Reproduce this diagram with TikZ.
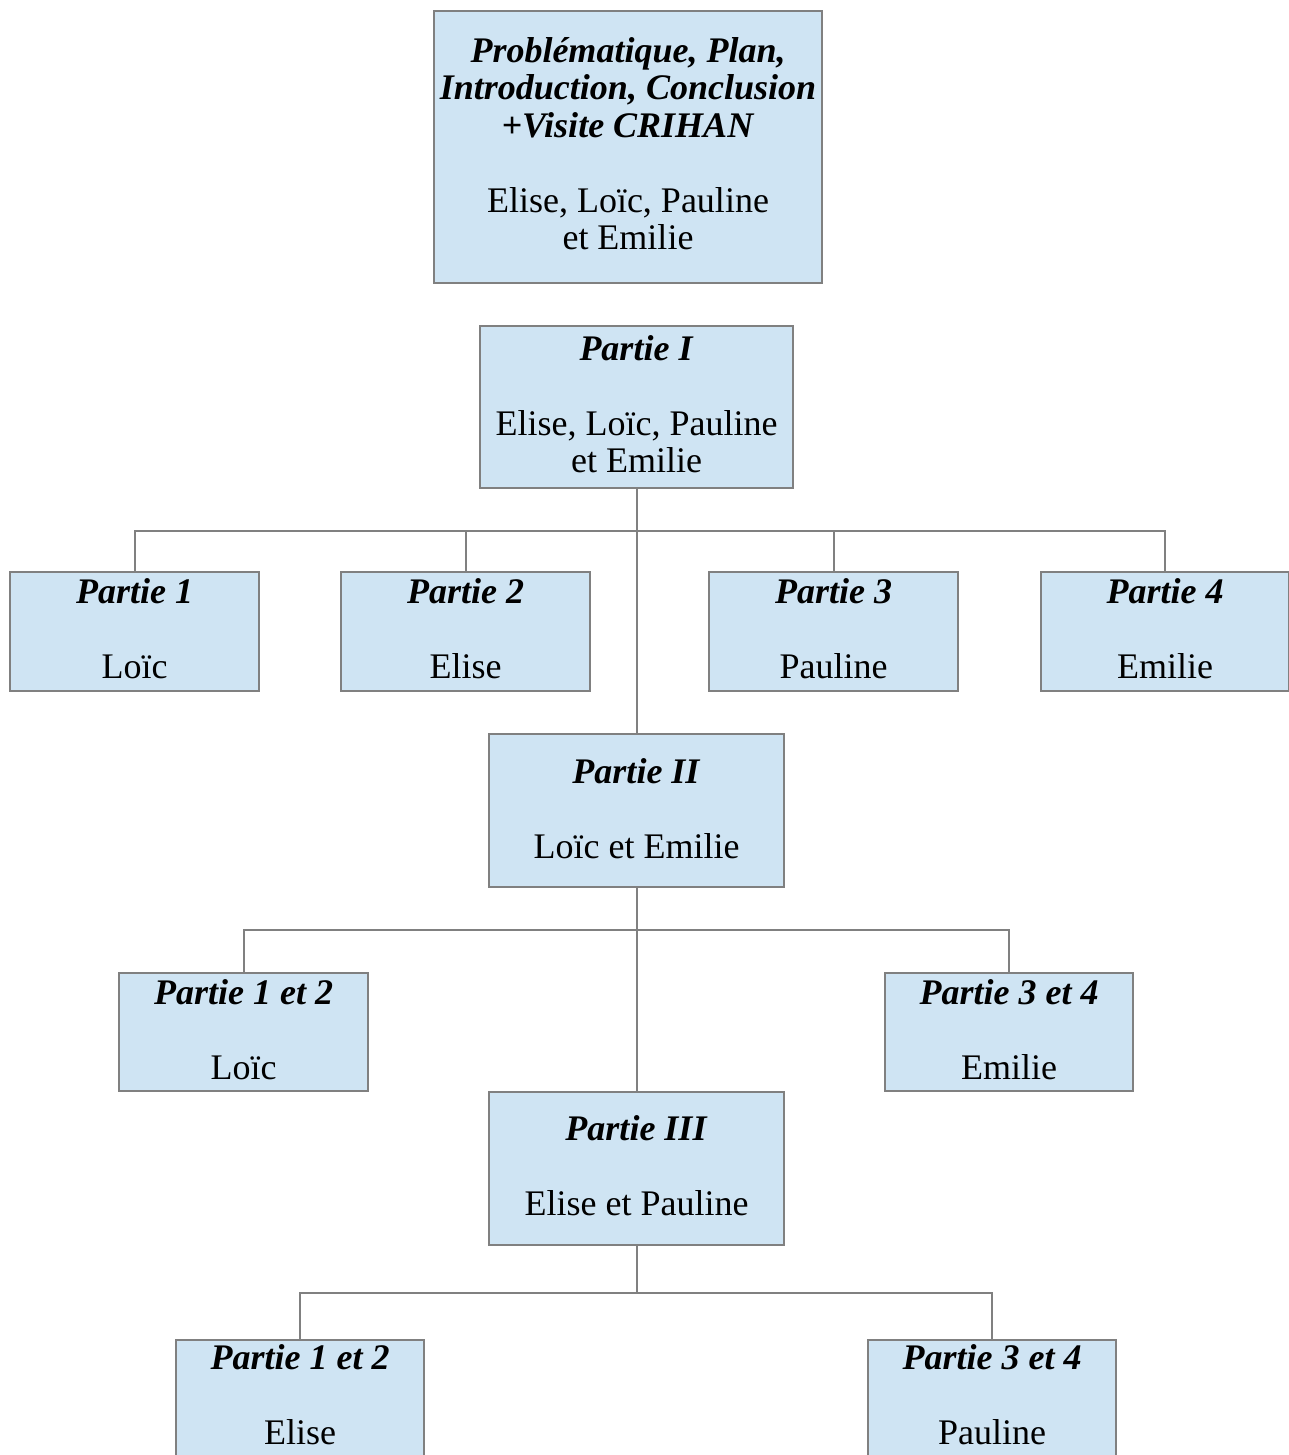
\documentclass[tikz,border=0pt]{standalone}
\usepackage{fontspec}
\setmainfont{Liberation Serif}
\definecolor{boxfill}{RGB}{207,228,243}
\definecolor{boxline}{RGB}{128,128,128}
\tikzset{
  boxn/.style={draw=boxline, fill=boxfill, line width=2pt, inner sep=0pt, rectangle},
  txt/.style={inner sep=0pt, align=center, anchor=north, font=\fontsize{36}{37.5}\selectfont},
  conn/.style={draw=boxline, line width=2pt},
}
\newcommand{\ttl}[1]{\textbf{\textit{#1}}}
\begin{document}
\begin{tikzpicture}[x=1pt,y=-1pt]
\useasboundingbox[fill=white] (0,0) rectangle (1289,1455);
% boxes
\node[boxn, minimum width=388pt, minimum height=272pt] (top) at (628,147) {};
\node[boxn, minimum width=313pt, minimum height=162pt] (p1) at (636.5,407) {};
\node[boxn, minimum width=249pt, minimum height=119pt] (pa) at (134.5,631.5) {};
\node[boxn, minimum width=249pt, minimum height=119pt] (pb) at (465.5,631.5) {};
\node[boxn, minimum width=249pt, minimum height=119pt] (pc) at (833.5,631.5) {};
\node[boxn, minimum width=248pt, minimum height=119pt] (pd) at (1165,631.5) {};
\node[boxn, minimum width=295pt, minimum height=153pt] (p2) at (636.5,810.5) {};
\node[boxn, minimum width=249pt, minimum height=118pt] (qa) at (243.5,1032) {};
\node[boxn, minimum width=248pt, minimum height=118pt] (qb) at (1009,1032) {};
\node[boxn, minimum width=295pt, minimum height=153pt] (p3) at (636.5,1168.5) {};
\node[boxn, minimum width=248pt, minimum height=130pt] (ra) at (300,1405) {};
\node[boxn, minimum width=248pt, minimum height=130pt] (rb) at (992,1405) {};
% texts
\node[txt] (top-t) at ([yshift=-1pt]top.north) {\rule{0pt}{51pt}\ttl{Problématique, Plan,}\\\ttl{Introduction, Conclusion}\\\ttl{+Visite CRIHAN}\\[37.5pt]Elise, Loïc, Pauline\\et Emilie};
\node[txt] (p1-t) at (p1.north) {\rule{0pt}{35pt}\ttl{Partie I}\\[37.5pt]Elise, Loïc, Pauline\\et Emilie};
\node[txt] (pa-t) at (pa.north) {\rule{0pt}{32pt}\ttl{Partie 1}\\[37.5pt]Loïc};
\node[txt] (pb-t) at (pb.north) {\rule{0pt}{32pt}\ttl{Partie 2}\\[37.5pt]Elise};
\node[txt] (pc-t) at (pc.north) {\rule{0pt}{32pt}\ttl{Partie 3}\\[37.5pt]Pauline};
\node[txt] (pd-t) at (pd.north) {\rule{0pt}{32pt}\ttl{Partie 4}\\[37.5pt]Emilie};
\node[txt] (p2-t) at (p2.north) {\rule{0pt}{50pt}\ttl{Partie II}\\[37.5pt]Loïc et Emilie};
\node[txt] (qa-t) at (qa.north) {\rule{0pt}{32pt}\ttl{Partie 1 et 2}\\[37.5pt]Loïc};
\node[txt] (qb-t) at (qb.north) {\rule{0pt}{32pt}\ttl{Partie 3 et 4}\\[37.5pt]Emilie};
\node[txt] (p3-t) at (p3.north) {\rule{0pt}{49pt}\ttl{Partie III}\\[37.5pt]Elise et Pauline};
\node[txt] (ra-t) at (ra.north) {\rule{0pt}{30pt}\ttl{Partie 1 et 2}\\[37.5pt]Elise};
\node[txt] (rb-t) at (rb.north) {\rule{0pt}{30pt}\ttl{Partie 3 et 4}\\[37.5pt]Pauline};
% bars
\coordinate (bar1) at (636.5,531);
\coordinate (bar2) at (636.5,930);
\coordinate (bar3) at (636.5,1293);
% connectors
\draw[conn] (p1.south) -- (p2.north);
\draw[conn] (pa.north) -- (pa.north |- bar1) -- (pd.north |- bar1) -- (pd.north);
\draw[conn] (pb.north) -- (pb.north |- bar1);
\draw[conn] (pc.north) -- (pc.north |- bar1);
\draw[conn] (p2.south) -- (p3.north);
\draw[conn] (qa.north) -- (qa.north |- bar2) -- (qb.north |- bar2) -- (qb.north);
\draw[conn] (p3.south) -- (bar3);
\draw[conn] (ra.north) -- (ra.north |- bar3) -- (rb.north |- bar3) -- (rb.north);
\end{tikzpicture}
\end{document}
